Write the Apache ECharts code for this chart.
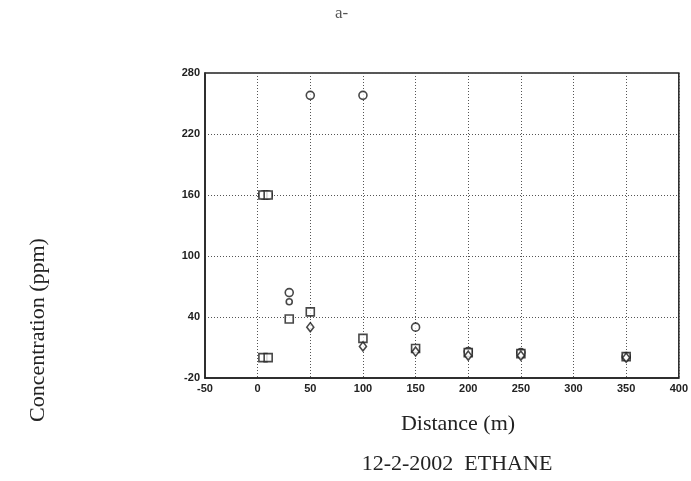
<!DOCTYPE html>
<html><head><meta charset="utf-8">
<script src="https://cdn.jsdelivr.net/npm/echarts@6/dist/echarts.min.js"></script>
<style>html,body{margin:0;padding:0;background:#fff}#c{width:691px;height:481px}</style>
</head><body><div id="c"></div>
<script>
var xTicks = [-50, 0, 50, 100, 150, 200, 250, 300, 350, 400];
var yTicks = [-20, 40, 100, 160, 220, 280];
var circleData = [[5,160],[10,160],[30,64],[50,258],[100,258],[150,30],[200,6],[250,5],[350,1]];
var squareData = [[5,160],[10,160],[5,0],[10,0],[30,38],[50,45],[100,19],[150,9],[200,5],[250,4],[350,1]];
var smallCircleData = [[30,55]];
var diamondData = [[50,30],[100,11],[150,6],[200,2],[250,2],[350,0]];

var chart = echarts.init(document.getElementById('c'));
var mk = {color:'#fff', borderColor:'#1a1a1a', borderWidth:1.6};
chart.setOption({
  animation:false,
  backgroundColor:'#fff',
  grid:{left:205, right:12, top:73, bottom:103, show:true, borderColor:'#222', borderWidth:1.5, backgroundColor:'transparent'},
  xAxis:{type:'value', min:xTicks[0], max:xTicks[xTicks.length-1], interval:50,
    axisLine:{show:true, onZero:false, lineStyle:{color:'#222', width:1.5}}, axisTick:{show:false},
    axisLabel:{color:'#222', fontFamily:'Liberation Sans', fontSize:11, fontWeight:'bold', margin:5},
    splitLine:{show:true, lineStyle:{color:'#555', type:[1,2], width:1}}},
  yAxis:{type:'value', min:yTicks[0], max:yTicks[yTicks.length-1], interval:60,
    axisLine:{show:true, onZero:false, lineStyle:{color:'#222', width:1.5}}, axisTick:{show:false},
    axisLabel:{color:'#222', fontFamily:'Liberation Sans', fontSize:11, fontWeight:'bold', margin:5},
    splitLine:{show:true, lineStyle:{color:'#555', type:[1,2], width:1}}},
  series:[
    {type:'scatter', data:circleData, symbol:'circle', symbolSize:8, itemStyle:mk},
    {type:'scatter', data:squareData, symbol:'rect', symbolSize:8, itemStyle:mk},
    {type:'scatter', data:smallCircleData, symbol:'circle', symbolSize:6, itemStyle:mk},
    {type:'scatter', data:diamondData, symbol:'diamond', symbolSize:[7,9], itemStyle:mk}
  ],
  graphic:[
    {type:'text', left:335, top:5, style:{text:'a-', fontFamily:'Liberation Serif', fontSize:17, fill:'#555'}},
    {type:'text', x:38, y:330, rotation:Math.PI/2, style:{text:'Concentration (ppm)', fontFamily:'Liberation Serif', fontSize:22, fill:'#222', align:'center', verticalAlign:'middle'}},
    {type:'text', x:458, y:424, style:{text:'Distance (m)', fontFamily:'Liberation Serif', fontSize:22, fill:'#222', align:'center', verticalAlign:'middle'}},
    {type:'text', x:457, y:464, style:{text:'12-2-2002  ETHANE', fontFamily:'Liberation Serif', fontSize:22, fill:'#222', align:'center', verticalAlign:'middle'}}
  ]
});
</script></body></html>
